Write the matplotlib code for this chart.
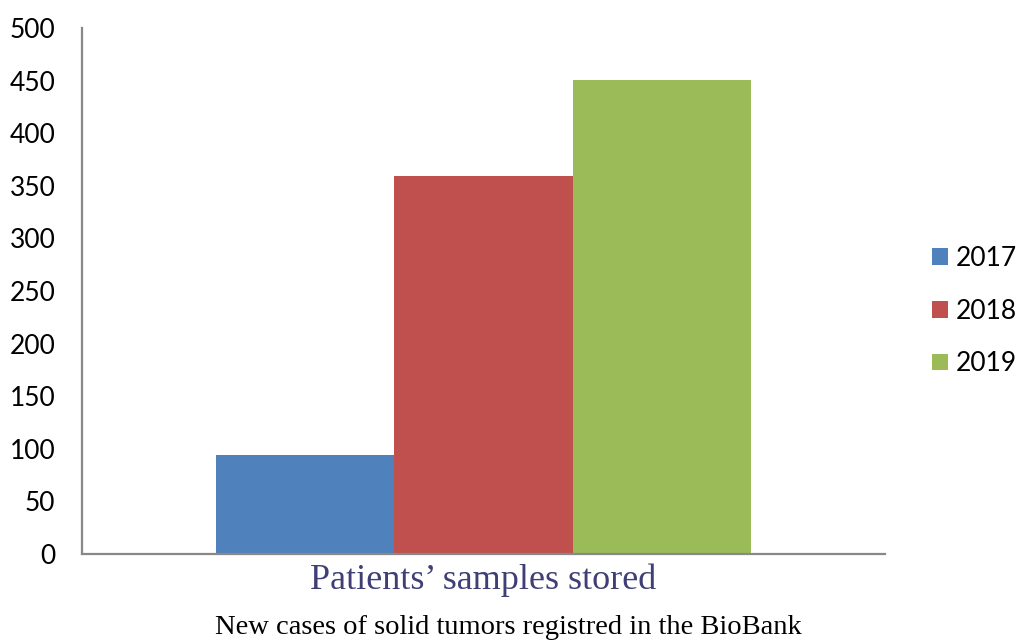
import matplotlib.pyplot as plt

# data
category = "Patients\u2019 samples stored"
years = ["2017", "2018", "2019"]
counts = [94, 359, 451]
colors = ["#4f81bd", "#c0504d", "#9bbb59"]
y_ticks = [0, 50, 100, 150, 200, 250, 300, 350, 400, 450, 500]
caption = "New cases of solid tumors registred in the BioBank"

fig = plt.figure(figsize=(10.18, 6.44), dpi=100)
ax = fig.add_axes([0.0805, 0.1398, 0.789, 0.8167])

bar_w = 0.222
offsets = [-bar_w, 0, bar_w]
for year, val, col, off in zip(years, counts, colors, offsets):
    ax.bar(off, val, width=bar_w, color=col, label=year, edgecolor="none")

ax.set_xlim(-0.5, 0.5)
ax.set_ylim(0, 500)
ax.set_yticks(y_ticks)
ax.set_yticklabels([str(t) for t in y_ticks], fontsize=19, family="Lato")
ax.set_xticks([0])
ax.set_xticklabels([category], fontsize=26, family="Liberation Serif", color="#3f3f76")
ax.tick_params(axis="both", length=0)
ax.tick_params(axis="y", pad=19)
ax.tick_params(axis="x", pad=7)

for side in ["top", "right"]:
    ax.spines[side].set_visible(False)
for side in ["left", "bottom"]:
    ax.spines[side].set_color("#888888")
    ax.spines[side].set_linewidth(1.6)

leg = fig.legend(loc="center left", bbox_to_anchor=(0.9155, 0.517), frameon=False,
                 prop={"family": "Lato", "size": 19}, handlelength=0.6, handleheight=0.6,
                 handletextpad=0.3, labelspacing=1.05, borderpad=0, borderaxespad=0)

fig.text(0.499, 0.025, caption, ha="center", va="center", fontsize=20.5,
         family="Liberation Serif", color="black")

plt.savefig("out.png", dpi=100)
